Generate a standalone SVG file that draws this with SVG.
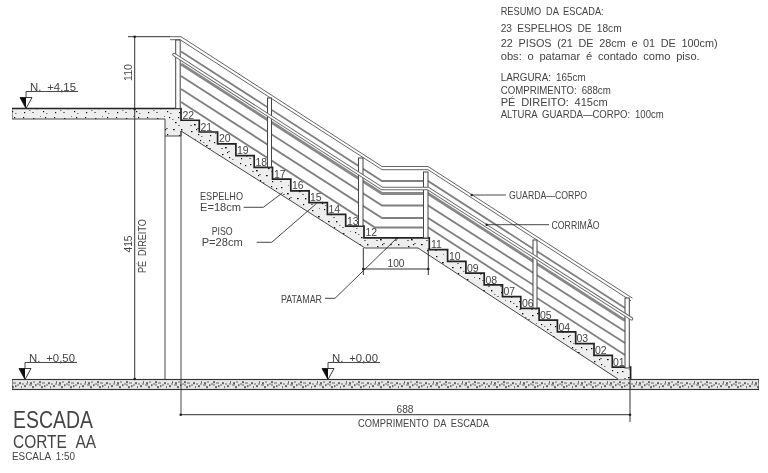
<svg xmlns="http://www.w3.org/2000/svg" xmlns:xlink="http://www.w3.org/1999/xlink" width="768" height="473" viewBox="0 0 768 473">
<style>
text{font-family:"Liberation Sans",Arial,sans-serif;fill:#444;font-size:10.5px;word-spacing:2.5px}
.r{font-size:10.5px}
.ln{fill:none;stroke:#333;stroke-width:.9}
.dim{fill:none;stroke:#333;stroke-width:1}
.bar{fill:none;stroke:#808080;stroke-width:1.8}
.gr{fill:none;stroke:#888;stroke-width:2.8}
.top{fill:none;stroke:#666;stroke-width:1}
.pipeo{fill:none;stroke:#666;stroke-width:3.4;stroke-linecap:round;stroke-linejoin:round}
.pipei{fill:none;stroke:#fff;stroke-width:1.6;stroke-linecap:round;stroke-linejoin:round}
.post{fill:#fff;stroke:#444;stroke-width:1}
.dot{fill:#222}
</style>
<defs>
<filter id="soft" x="0" y="0" width="100%" height="100%"><feGaussianBlur stdDeviation="0.35"/></filter>
<pattern id="conc" width="31" height="23" patternUnits="userSpaceOnUse">
<rect width="31" height="23" fill="#eee"/>
<g fill="#111"><rect x="2" y="3" width="1.400" height="1.200"/><rect x="8" y="9" width="1.700" height="1.400"/><rect x="14" y="2" width="1.200" height="1.200"/><rect x="20" y="7" width="1.600" height="1.200"/><rect x="26" y="14" width="1.400" height="1.400"/><rect x="5" y="16" width="1.500" height="1.200"/><rect x="12" y="19" width="1.200" height="1.200"/><rect x="18" y="14" width="1.700" height="1.200"/><rect x="24" y="20" width="1.200" height="1.200"/><rect x="28" y="4" width="1.200" height="1.200"/><rect x="10" y="14" width="1.200" height="1.200"/><rect x="23" y="2" width="1.200" height="1.200"/></g>
<g fill="#777"><rect x="4" y="10" width="2" height="1"/><rect x="11" y="13" width="2" height="1"/><rect x="17" y="4" width="1.500" height="1"/><rect x="23" y="10" width="2" height="1"/><rect x="9" y="1" width="1" height="1"/><rect x="1" y="20" width="2" height="1"/><rect x="29" y="18" width="1.500" height="1"/><rect x="15" y="21" width="1.500" height="1"/></g>
</pattern>
<pattern id="fl" width="29" height="10" patternUnits="userSpaceOnUse" y="379.500">
<rect width="29" height="10" fill="#e6e6e6"/>
<g fill="#111"><rect x="1" y="3" width="2" height="1.200"/><rect x="6" y="5" width="1.500" height="1.200"/><rect x="10" y="2" width="2" height="1.200"/><rect x="15" y="6" width="1.500" height="1.200"/><rect x="19" y="3" width="2" height="1.200"/><rect x="24" y="6" width="2" height="1.200"/><rect x="27" y="2" width="1" height="1.200"/><rect x="3" y="7" width="2" height="1.200"/><rect x="12" y="7" width="2" height="1.200"/><rect x="21" y="7" width="1" height="1.200"/></g>
<g fill="#666"><rect x="4" y="2" width="2" height="1"/><rect x="8" y="4" width="2" height="1"/><rect x="13" y="3" width="3" height="1"/><rect x="17" y="5" width="2" height="1"/><rect x="22" y="4" width="2" height="1"/><rect x="26" y="4" width="2" height="1"/><rect x="0" y="5" width="3" height="1"/><rect x="10" y="5" width="2" height="1"/></g>
</pattern>
<g id="lvl">
<path d="M0 0V-17H52" class="ln"/>
<path d="M-6 -11H6L0 0Z" fill="#fff" stroke="#222" stroke-width=".9"/>
<path d="M-6 -11H0V0Z" fill="#111"/>
</g>
</defs>
<rect width="768" height="473" fill="#fff"/>
<g filter="url(#soft)">
<g id="floor">
<rect x="12" y="379.500" width="747" height="10" fill="url(#fl)" stroke="#333" stroke-width="1.100"/>
</g>
<g id="structure">
<path d="M12 108.500H181V120.260
h18.300v11.760 h18.300v11.760 h18.300v11.760 h18.300v11.760 h18.300v11.760
h18.300v11.760 h18.300v11.760 h18.300v11.760 h18.300v11.760 h18.300v11.760
H429.300
v11.760h18.300 v11.760h18.300 v11.760h18.300 v11.760h18.300 v11.760h18.300
v11.760h18.300 v11.760h18.300 v11.760h18.300 v11.760h18.300 v11.760h18.300 v11.760h18.300
V379.500H618L418 248H365L181 131V136H165V119H12Z" fill="url(#conc)" stroke="none"/>
<path d="M12 108.500H181V120.260
h18.300v11.760 h18.300v11.760 h18.300v11.760 h18.300v11.760 h18.300v11.760
h18.300v11.760 h18.300v11.760 h18.300v11.760 h18.300v11.760 h18.300v11.760
H429.300
v11.760h18.300 v11.760h18.300 v11.760h18.300 v11.760h18.300 v11.760h18.300
v11.760h18.300 v11.760h18.300 v11.760h18.300 v11.760h18.300 v11.760h18.300 v11.760h18.300
V379.500" fill="none" stroke="#222" stroke-width="1.700"/>
<path d="M12 108.500V119H165V136H181V131L365 248H418L618 379" class="ln"/>
<path d="M165 136V379.500M181 131V414.700" class="ln"/>
</g>
<g id="guard-rail">
<path d="M170 36.700H181L382 166.500H428L632.500 298.200" class="top"/>
<path d="M170 39.700H180L382 169.700H428L631 300.800" class="top"/>
<path d="M181 51.500L382 181H428L625 308" class="bar"/>
<path d="M181 64L382 193.500H428L625 320.500" class="gr"/>
<path d="M181 76L382 205.500H428L625 331.500" class="bar"/>
<path d="M181 89L382 218H428L625 343" class="bar"/>
<path d="M181 102L375 227.500H428L625 355" class="bar"/>
<rect class="post" x="175.700" y="40" width="4.500" height="68.500"/>
<rect class="post" x="267.500" y="98" width="4" height="69"/>
<rect class="post" x="358.500" y="158" width="4.500" height="68"/>
<rect class="post" x="423.500" y="172" width="4.500" height="66"/>
<rect class="post" x="533" y="240" width="4" height="68"/>
<rect class="post" x="625" y="298" width="4.300" height="70"/>
<path d="M174 54.500L382 188.500H428L631.500 318.800" class="pipeo"/>
<path d="M174 54.500L382 188.500H428L631.500 318.800" class="pipei"/>
</g>
<g id="step-numbers">
<text class="r" x="182.500" y="119">22</text><text class="r" x="200.500" y="130.500">21</text><text class="r" x="219" y="142">20</text><text class="r" x="237" y="154">19</text><text class="r" x="255.500" y="166">18</text><text class="r" x="274" y="177.500">17</text><text class="r" x="292" y="189">16</text><text class="r" x="310" y="201">15</text><text class="r" x="328.500" y="213">14</text><text class="r" x="347" y="224.500">13</text><text class="r" x="365.500" y="236">12</text>
<text class="r" x="431" y="248">11</text><text class="r" x="449" y="260">10</text><text class="r" x="467" y="272">09</text><text class="r" x="485.500" y="283.500">08</text><text class="r" x="503.500" y="295">07</text><text class="r" x="522" y="307">06</text><text class="r" x="540" y="319">05</text><text class="r" x="558.500" y="330.500">04</text><text class="r" x="576.500" y="342">03</text><text class="r" x="595" y="354">02</text><text class="r" x="613" y="366">01</text>
</g>
<g id="dimensions">
<path d="M128 36.700H170M134.700 36.700V379.500M180.700 414.700H630M630 379V422M363.300 248V275M428.300 248V275M363.300 269H428.300" class="dim"/>
<circle class="dot" cx="134.700" cy="36.700" r="1.300"/><circle class="dot" cx="134.700" cy="109" r="1.300"/><circle class="dot" cx="134.700" cy="379" r="1.300"/><circle class="dot" cx="180.700" cy="414.700" r="1.300"/><circle class="dot" cx="630" cy="414.700" r="1.300"/><circle class="dot" cx="363.300" cy="269" r="1.300"/><circle class="dot" cx="428.300" cy="269" r="1.300"/>
<text transform="translate(131.700 72.500) rotate(-90)" text-anchor="middle" textLength="17" lengthAdjust="spacingAndGlyphs">110</text>
<text transform="translate(131.700 244) rotate(-90)" text-anchor="middle" textLength="17" lengthAdjust="spacingAndGlyphs">415</text>
<text transform="translate(145.700 246) rotate(-90)" text-anchor="middle" textLength="54" lengthAdjust="spacingAndGlyphs">PÉ DIREITO</text>
<text x="405" y="412.500" text-anchor="middle" textLength="17" lengthAdjust="spacingAndGlyphs">688</text>
<text x="358" y="426.500" textLength="131" lengthAdjust="spacingAndGlyphs">COMPRIMENTO DA ESCADA</text>
<text x="396" y="266.500" text-anchor="middle" textLength="17" lengthAdjust="spacingAndGlyphs">100</text>
</g>
<g id="level-415">
<use href="#lvl" xlink:href="#lvl" x="26" y="108.500"/>
<text x="30" y="90.500" textLength="46" lengthAdjust="spacingAndGlyphs">N. +4,15</text>
</g>
<g id="level-050">
<use href="#lvl" xlink:href="#lvl" x="25" y="379.500"/>
<text x="29" y="361.500" textLength="46" lengthAdjust="spacingAndGlyphs">N. +0,50</text>
</g>
<g id="level-000">
<use href="#lvl" xlink:href="#lvl" x="328" y="379.500"/>
<text x="332" y="361.500" textLength="46" lengthAdjust="spacingAndGlyphs">N. +0,00</text>
</g>
<g id="leaders">
<path d="M471.700 195H506M486.700 224.700H549M243.700 207.300H263.300L282.700 192.700M256.700 242.300H271.700L316.700 203.300M325 298.300H335L396.700 238.300" class="ln"/>
<circle class="dot" cx="471.700" cy="195" r="1.200"/><circle class="dot" cx="486.700" cy="224.700" r="1.200"/><circle class="dot" cx="396.700" cy="238.300" r="1.200"/>
<text x="509" y="199" textLength="78" lengthAdjust="spacingAndGlyphs">GUARDA—CORPO</text>
<text x="551.500" y="229" textLength="48" lengthAdjust="spacingAndGlyphs">CORRIMÃO</text>
<text x="200" y="200" textLength="43" lengthAdjust="spacingAndGlyphs">ESPELHO</text>
<text x="200" y="211" textLength="41" lengthAdjust="spacingAndGlyphs">E=18cm</text>
<text x="211.700" y="235" textLength="21" lengthAdjust="spacingAndGlyphs">PISO</text>
<text x="201.700" y="245.700" textLength="41" lengthAdjust="spacingAndGlyphs">P=28cm</text>
<text x="281" y="303" textLength="41" lengthAdjust="spacingAndGlyphs">PATAMAR</text>
</g>
<g id="title">
<text x="13" y="428" style="font-size:23px" textLength="80" lengthAdjust="spacingAndGlyphs">ESCADA</text>
<text x="13" y="448" style="font-size:18px;word-spacing:6px" textLength="83" lengthAdjust="spacingAndGlyphs">CORTE AA</text>
<text x="12" y="460" style="font-size:10px" textLength="63" lengthAdjust="spacingAndGlyphs">ESCALA 1:50</text>
</g>
<g id="summary">
<text x="500.700" y="15" textLength="103" lengthAdjust="spacingAndGlyphs">RESUMO DA ESCADA:</text>
<text x="500.700" y="31.500" textLength="121" lengthAdjust="spacingAndGlyphs">23 ESPELHOS DE 18cm</text>
<text x="500.700" y="47" textLength="217" lengthAdjust="spacingAndGlyphs">22 PISOS (21 DE 28cm e 01 DE 100cm)</text>
<text x="500.700" y="60" textLength="199" lengthAdjust="spacingAndGlyphs">obs: o patamar é contado como piso.</text>
<text x="500.700" y="81" textLength="85" lengthAdjust="spacingAndGlyphs">LARGURA: 165cm</text>
<text x="500.700" y="94" textLength="110" lengthAdjust="spacingAndGlyphs">COMPRIMENTO: 688cm</text>
<text x="500.700" y="105.700" textLength="107" lengthAdjust="spacingAndGlyphs">PÉ DIREITO: 415cm</text>
<text x="500.700" y="117.500" textLength="163" lengthAdjust="spacingAndGlyphs">ALTURA GUARDA—CORPO: 100cm</text>
</g>
</g>
</svg>
